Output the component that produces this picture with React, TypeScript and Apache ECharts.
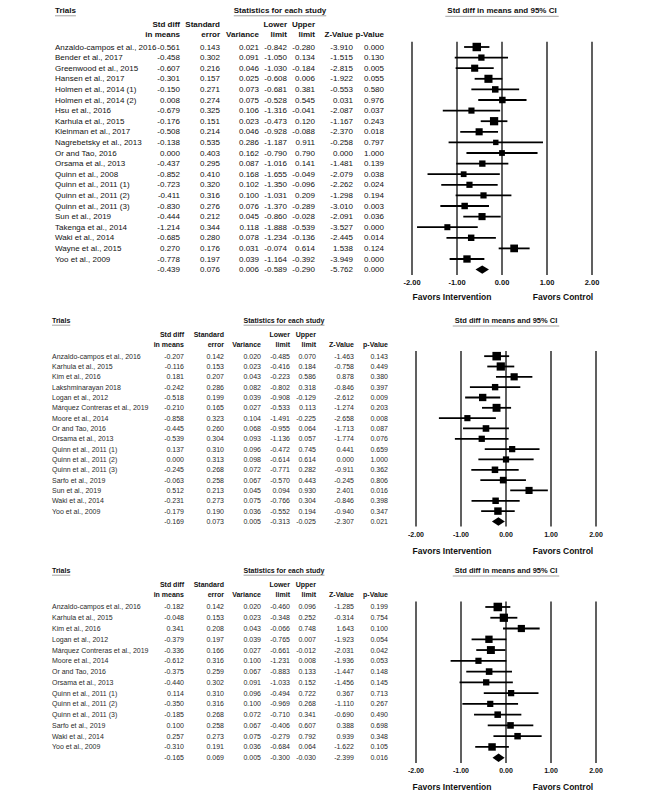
import React, { useEffect, useRef } from "react";
import * as echarts from "echarts";

const FONT = '"Liberation Sans", Arial, Helvetica, sans-serif';

// ---------- Panel 1 data ----------
const names1 = [
  "Anzaldo-campos et al., 2016", "Bender et al., 2017", "Greenwood et al., 2015", "Hansen et al., 2017",
  "Holmen et al., 2014 (1)", "Holmen et al., 2014 (2)", "Hsu et al., 2016", "Karhula et al., 2015",
  "Kleinman et al., 2017", "Nagrebetsky et al., 2013", "Or and Tao, 2016", "Orsama et al., 2013",
  "Quinn et al., 2008", "Quinn et al., 2011 (1)", "Quinn et al., 2011 (2)", "Quinn et al., 2011 (3)",
  "Sun et al., 2019", "Takenga et al., 2014", "Waki et al., 2014", "Wayne et al., 2015", "Yoo et al., 2009",
];
const smd1 = [-0.561, -0.458, -0.607, -0.301, -0.150, 0.008, -0.679, -0.176, -0.508, -0.138, 0.000, -0.437, -0.852, -0.723, -0.411, -0.830, -0.444, -1.214, -0.685, 0.270, -0.778];
const se1 = [0.143, 0.302, 0.216, 0.157, 0.271, 0.274, 0.325, 0.151, 0.214, 0.535, 0.403, 0.295, 0.410, 0.320, 0.316, 0.276, 0.212, 0.344, 0.280, 0.176, 0.197];
const var1 = [0.021, 0.091, 0.046, 0.025, 0.073, 0.075, 0.106, 0.023, 0.046, 0.286, 0.162, 0.087, 0.168, 0.102, 0.100, 0.076, 0.045, 0.118, 0.078, 0.031, 0.039];
const lower1 = [-0.842, -1.050, -1.030, -0.608, -0.681, -0.528, -1.316, -0.473, -0.928, -1.187, -0.790, -1.016, -1.655, -1.350, -1.031, -1.370, -0.860, -1.888, -1.234, -0.074, -1.164];
const upper1 = [-0.280, 0.134, -0.184, 0.006, 0.381, 0.545, -0.041, 0.120, -0.088, 0.911, 0.790, 0.141, -0.049, -0.096, 0.209, -0.289, -0.028, -0.539, -0.136, 0.614, -0.392];
const z1 = [-3.910, -1.515, -2.815, -1.922, -0.553, 0.031, -2.087, -1.167, -2.370, -0.258, 0.000, -1.481, -2.079, -2.262, -1.298, -3.010, -2.091, -3.527, -2.445, 1.538, -3.949];
const p1 = [0.000, 0.130, 0.005, 0.055, 0.580, 0.976, 0.037, 0.243, 0.018, 0.797, 1.000, 0.139, 0.038, 0.024, 0.194, 0.003, 0.036, 0.000, 0.014, 0.124, 0.000];
const summary1 = [-0.439, 0.076, 0.006, -0.589, -0.290, -5.762, 0.000];

// ---------- Panel 2 data ----------
const names2 = [
  "Anzaldo-campos et al., 2016", "Karhula et al., 2015", "Kim et al., 2016", "Lakshminarayan 2018",
  "Logan et al., 2012", "Márquez Contreras et al., 2019", "Moore et al., 2014", "Or and Tao, 2016",
  "Orsama et al., 2013", "Quinn et al., 2011 (1)", "Quinn et al., 2011 (2)", "Quinn et al., 2011 (3)",
  "Sarfo et al., 2019", "Sun et al., 2019", "Waki et al., 2014", "Yoo et al., 2009",
];
const smd2 = [-0.207, -0.116, 0.181, -0.242, -0.518, -0.210, -0.858, -0.445, -0.539, 0.137, 0.000, -0.245, -0.063, 0.512, -0.231, -0.179];
const se2 = [0.142, 0.153, 0.207, 0.286, 0.199, 0.165, 0.323, 0.260, 0.304, 0.310, 0.313, 0.268, 0.258, 0.213, 0.273, 0.190];
const var2 = [0.020, 0.023, 0.043, 0.082, 0.039, 0.027, 0.104, 0.068, 0.093, 0.096, 0.098, 0.072, 0.067, 0.045, 0.075, 0.036];
const lower2 = [-0.485, -0.416, -0.223, -0.802, -0.908, -0.533, -1.491, -0.955, -1.136, -0.472, -0.614, -0.771, -0.570, 0.094, -0.766, -0.552];
const upper2 = [0.070, 0.184, 0.586, 0.318, -0.129, 0.113, -0.225, 0.064, 0.057, 0.745, 0.614, 0.282, 0.443, 0.930, 0.304, 0.194];
const z2 = [-1.463, -0.758, 0.878, -0.846, -2.612, -1.274, -2.658, -1.713, -1.774, 0.441, 0.000, -0.911, -0.245, 2.401, -0.846, -0.940];
const p2 = [0.143, 0.449, 0.380, 0.397, 0.009, 0.203, 0.008, 0.087, 0.076, 0.659, 1.000, 0.362, 0.806, 0.016, 0.398, 0.347];
const summary2 = [-0.169, 0.073, 0.005, -0.313, -0.025, -2.307, 0.021];

// ---------- Panel 3 data ----------
const names3 = [
  "Anzaldo-campos et al., 2016", "Karhula et al., 2015", "Kim et al., 2016", "Logan et al., 2012",
  "Márquez Contreras et al., 2019", "Moore et al., 2014", "Or and Tao, 2016", "Orsama et al., 2013",
  "Quinn et al., 2011 (1)", "Quinn et al., 2011 (2)", "Quinn et al., 2011 (3)", "Sarfo et al., 2019",
  "Waki et al., 2014", "Yoo et al., 2009",
];
const smd3 = [-0.182, -0.048, 0.341, -0.379, -0.336, -0.612, -0.375, -0.440, 0.114, -0.350, -0.185, 0.100, 0.257, -0.310];
const se3 = [0.142, 0.153, 0.208, 0.197, 0.166, 0.316, 0.259, 0.302, 0.310, 0.316, 0.268, 0.258, 0.273, 0.191];
const var3 = [0.020, 0.023, 0.043, 0.039, 0.027, 0.100, 0.067, 0.091, 0.096, 0.100, 0.072, 0.067, 0.075, 0.036];
const lower3 = [-0.460, -0.348, -0.066, -0.765, -0.661, -1.231, -0.883, -1.033, -0.494, -0.969, -0.710, -0.406, -0.279, -0.684];
const upper3 = [0.096, 0.252, 0.748, 0.007, -0.012, 0.008, 0.133, 0.152, 0.722, 0.268, 0.341, 0.607, 0.792, 0.064];
const z3 = [-1.285, -0.314, 1.643, -1.923, -2.031, -1.936, -1.447, -1.456, 0.367, -1.110, -0.690, 0.388, 0.939, -1.622];
const p3 = [0.199, 0.754, 0.100, 0.054, 0.042, 0.053, 0.148, 0.145, 0.713, 0.267, 0.490, 0.698, 0.348, 0.105];
const summary3 = [-0.165, 0.069, 0.005, -0.300, -0.030, -2.399, 0.016];

// ---------- Axis / text labels ----------
const axisMin = -2;
const axisMax = 2;
const axisInterval = 1;
const plotTitle = "Std diff in means and 95% CI";
const favorLeft = "Favors Intervention";
const favorRight = "Favors Control";
const headLine1 = ["Std diff", "Standard", "", "Lower", "Upper", "", ""];
const headLine2 = ["in means", "error", "Variance", "limit", "limit", "Z-Value", "p-Value"];

const panels = [
  { names: names1, smd: smd1, se: se1, vr: var1, lo: lower1, hi: upper1, z: z1, p: p1, sum: summary1 },
  { names: names2, smd: smd2, se: se2, vr: var2, lo: lower2, hi: upper2, z: z2, p: p2, sum: summary2 },
  { names: names3, smd: smd3, se: se3, vr: var3, lo: lower3, hi: upper3, z: z3, p: p3, sum: summary3 },
];

// ---------- Layout (pixels) ----------
const layouts = [
  { gridLeft: 412, gridTop: 41.7, gridH: 233.2, nameX: 55, cols: [180, 220, 259, 287, 315, 353, 384], font: 8, hFont: 8, color: "#111", titleY: 10, titleFont: 8, tickFont: 7.5, favY: 297 },
  { gridLeft: 416, gridTop: 351, gridH: 175.6, nameX: 52, cols: [184, 224, 261, 290, 316, 354, 388], font: 7, hFont: 7, color: "#2a2a2a", titleY: 320, titleFont: 7.5, tickFont: 7, favY: 551 },
  { gridLeft: 416, gridTop: 601.6, gridH: 161.5, nameX: 52, cols: [184, 224, 261, 290, 316, 354, 388], font: 7, hFont: 7, color: "#2a2a2a", titleY: 570, titleFont: 7.5, tickFont: 7, favY: 787 },
];
const GRID_W = 180;

function measure(text: string, size: number, bold: boolean): number {
  const c = document.createElement("canvas").getContext("2d");
  if (!c) return text.length * size * 0.55;
  c.font = `${bold ? "bold " : ""}${size}px ${FONT}`;
  return c.measureText(text).width;
}

function txt(text: string, x: number, y: number, size: number, bold: boolean, align: string, color = "#111") {
  return {
    type: "text",
    x,
    y,
    silent: true,
    style: { text, fontSize: size, fontWeight: bold ? "bold" : "normal", fontFamily: FONT, fill: color, align, verticalAlign: "middle" },
  };
}

function uline(x1: number, x2: number, y: number) {
  return { type: "line", silent: true, shape: { x1, y1: y, x2, y2: y }, style: { stroke: "#8a8a8a", lineWidth: 0.8 } };
}

function buildGraphics() {
  const els: any[] = [];
  layouts.forEach((L) => {
    const ty = L.titleY;
    // Trials
    const wT = measure("Trials", L.hFont, true);
    els.push(txt("Trials", L.nameX, ty, L.hFont, true, "left"));
    els.push(uline(L.nameX, L.nameX + wT, ty + L.hFont * 0.6 + 1));
    // Statistics
    const statX = (L.cols[0] + L.cols[6]) / 2 - 2;
    const stat = "Statistics for each study";
    const wS = measure(stat, L.hFont, true);
    els.push(txt(stat, statX, ty, L.hFont, true, "center"));
    els.push(uline(statX - wS / 2, statX + wS / 2, ty + L.hFont * 0.6 + 1));
    // Plot title
    const cx = L.gridLeft + GRID_W / 2;
    const wP = measure(plotTitle, L.titleFont, true);
    els.push(txt(plotTitle, cx, ty, L.titleFont, true, "center"));
    els.push(uline(cx - wP / 2 - 2, cx + wP / 2 + 2, ty + L.titleFont * 0.6 + 1.5));
    // Column headers
    headLine1.forEach((h, i) => {
      if (h) els.push(txt(h, L.cols[i], ty + 14, L.hFont, true, "right"));
    });
    headLine2.forEach((h, i) => {
      if (h) els.push(txt(h, L.cols[i], ty + 24, L.hFont, true, "right"));
    });
    // Favors labels
    els.push(txt(favorLeft, 452, L.favY, 8.5, true, "center"));
    els.push(txt(favorRight, 563, L.favY, 8.5, true, "center"));
  });
  return els;
}

function buildOption() {
  const grid: any[] = [];
  const xAxis: any[] = [];
  const yAxis: any[] = [];
  const series: any[] = [];

  panels.forEach((P, k) => {
    const L = layouts[k];
    const n = P.names.length;
    grid.push({ left: L.gridLeft, top: L.gridTop, width: GRID_W, height: L.gridH, containLabel: false, outerBoundsMode: "none" });
    xAxis.push({
      type: "value",
      gridIndex: k,
      min: axisMin,
      max: axisMax,
      interval: axisInterval,
      axisLine: { show: false },
      axisTick: { show: false },
      splitLine: { show: true, lineStyle: { color: "#2b2b2b", width: 1.5 } },
      axisLabel: {
        show: true,
        margin: 4,
        formatter: (v: number) => v.toFixed(2),
        fontSize: L.tickFont,
        fontWeight: "bold",
        fontFamily: FONT,
        color: "#111",
      },
    });
    yAxis.push({
      type: "category",
      gridIndex: k,
      inverse: true,
      data: [...P.names, "Summary"],
      show: false,
      boundaryGap: true,
    });

    // CI lines + squares
    series.push({
      type: "custom",
      xAxisIndex: k,
      yAxisIndex: k,
      silent: true,
      encode: { x: [0, 2, 3], y: 1 },
      data: P.smd.map((v, i) => [v, i, P.lo[i], P.hi[i], P.vr[i]]),
      renderItem: (params: any, api: any) => {
        const row = api.value(1);
        const c = api.coord([api.value(0), row]);
        const lo = api.coord([api.value(2), row]);
        const hi = api.coord([api.value(3), row]);
        const s = 4.3 + 0.6 * Math.sqrt(1 / api.value(4));
        return {
          type: "group",
          children: [
            { type: "line", shape: { x1: lo[0], y1: c[1], x2: hi[0], y2: c[1] }, style: { stroke: "#000", lineWidth: 1.8 } },
            { type: "rect", shape: { x: c[0] - s / 2, y: c[1] - s / 2, width: s, height: s }, style: { fill: "#000" } },
          ],
        };
      },
    });

    // Summary diamond
    series.push({
      type: "custom",
      xAxisIndex: k,
      yAxisIndex: k,
      silent: true,
      encode: { x: [0, 2, 3], y: 1 },
      data: [[P.sum[0], n, P.sum[3], P.sum[4]]],
      renderItem: (params: any, api: any) => {
        const row = api.value(1);
        const c = api.coord([api.value(0), row]);
        const lo = api.coord([api.value(2), row]);
        const hi = api.coord([api.value(3), row]);
        const h = 4.2;
        return {
          type: "polygon",
          shape: { points: [[lo[0], c[1]], [c[0], c[1] - h], [hi[0], c[1]], [c[0], c[1] + h]] },
          style: { fill: "#000" },
        };
      },
    });

    // Table text
    const rows = [...P.names.map((_, i) => [0, i]), [0, n]];
    series.push({
      type: "custom",
      xAxisIndex: k,
      yAxisIndex: k,
      silent: true,
      clip: false,
      encode: { x: 0, y: 1 },
      data: rows,
      renderItem: (params: any, api: any) => {
        const i = params.dataIndex;
        const y = api.coord([0, api.value(1)])[1];
        const isSum = i === n;
        const vals = isSum
          ? P.sum
          : [P.smd[i], P.se[i], P.vr[i], P.lo[i], P.hi[i], P.z[i], P.p[i]];
        const children: any[] = [];
        if (!isSum) {
          children.push({
            type: "text",
            x: L.nameX,
            y,
            style: { text: P.names[i], fontSize: L.font, fontFamily: FONT, fill: L.color, align: "left", verticalAlign: "middle" },
          });
        }
        vals.forEach((v, j) => {
          children.push({
            type: "text",
            x: L.cols[j],
            y,
            style: { text: v.toFixed(3), fontSize: L.font, fontFamily: FONT, fill: L.color, align: "right", verticalAlign: "middle" },
          });
        });
        return { type: "group", children };
      },
    });
  });

  return {
    animation: false,
    backgroundColor: "#ffffff",
    grid,
    xAxis,
    yAxis,
    series,
    graphic: { elements: buildGraphics() },
  };
}

export default function App() {
  const ref = useRef<HTMLDivElement>(null);
  useEffect(() => {
    if (!ref.current) return;
    const chart = echarts.init(ref.current, undefined, { renderer: "svg" });
    chart.setOption(buildOption() as any);
    return () => chart.dispose();
  }, []);
  return (
    <div
      ref={ref}
      style={{ position: "absolute", left: 0, top: 0, width: 666, height: 799, background: "#fff" }}
    />
  );
}
